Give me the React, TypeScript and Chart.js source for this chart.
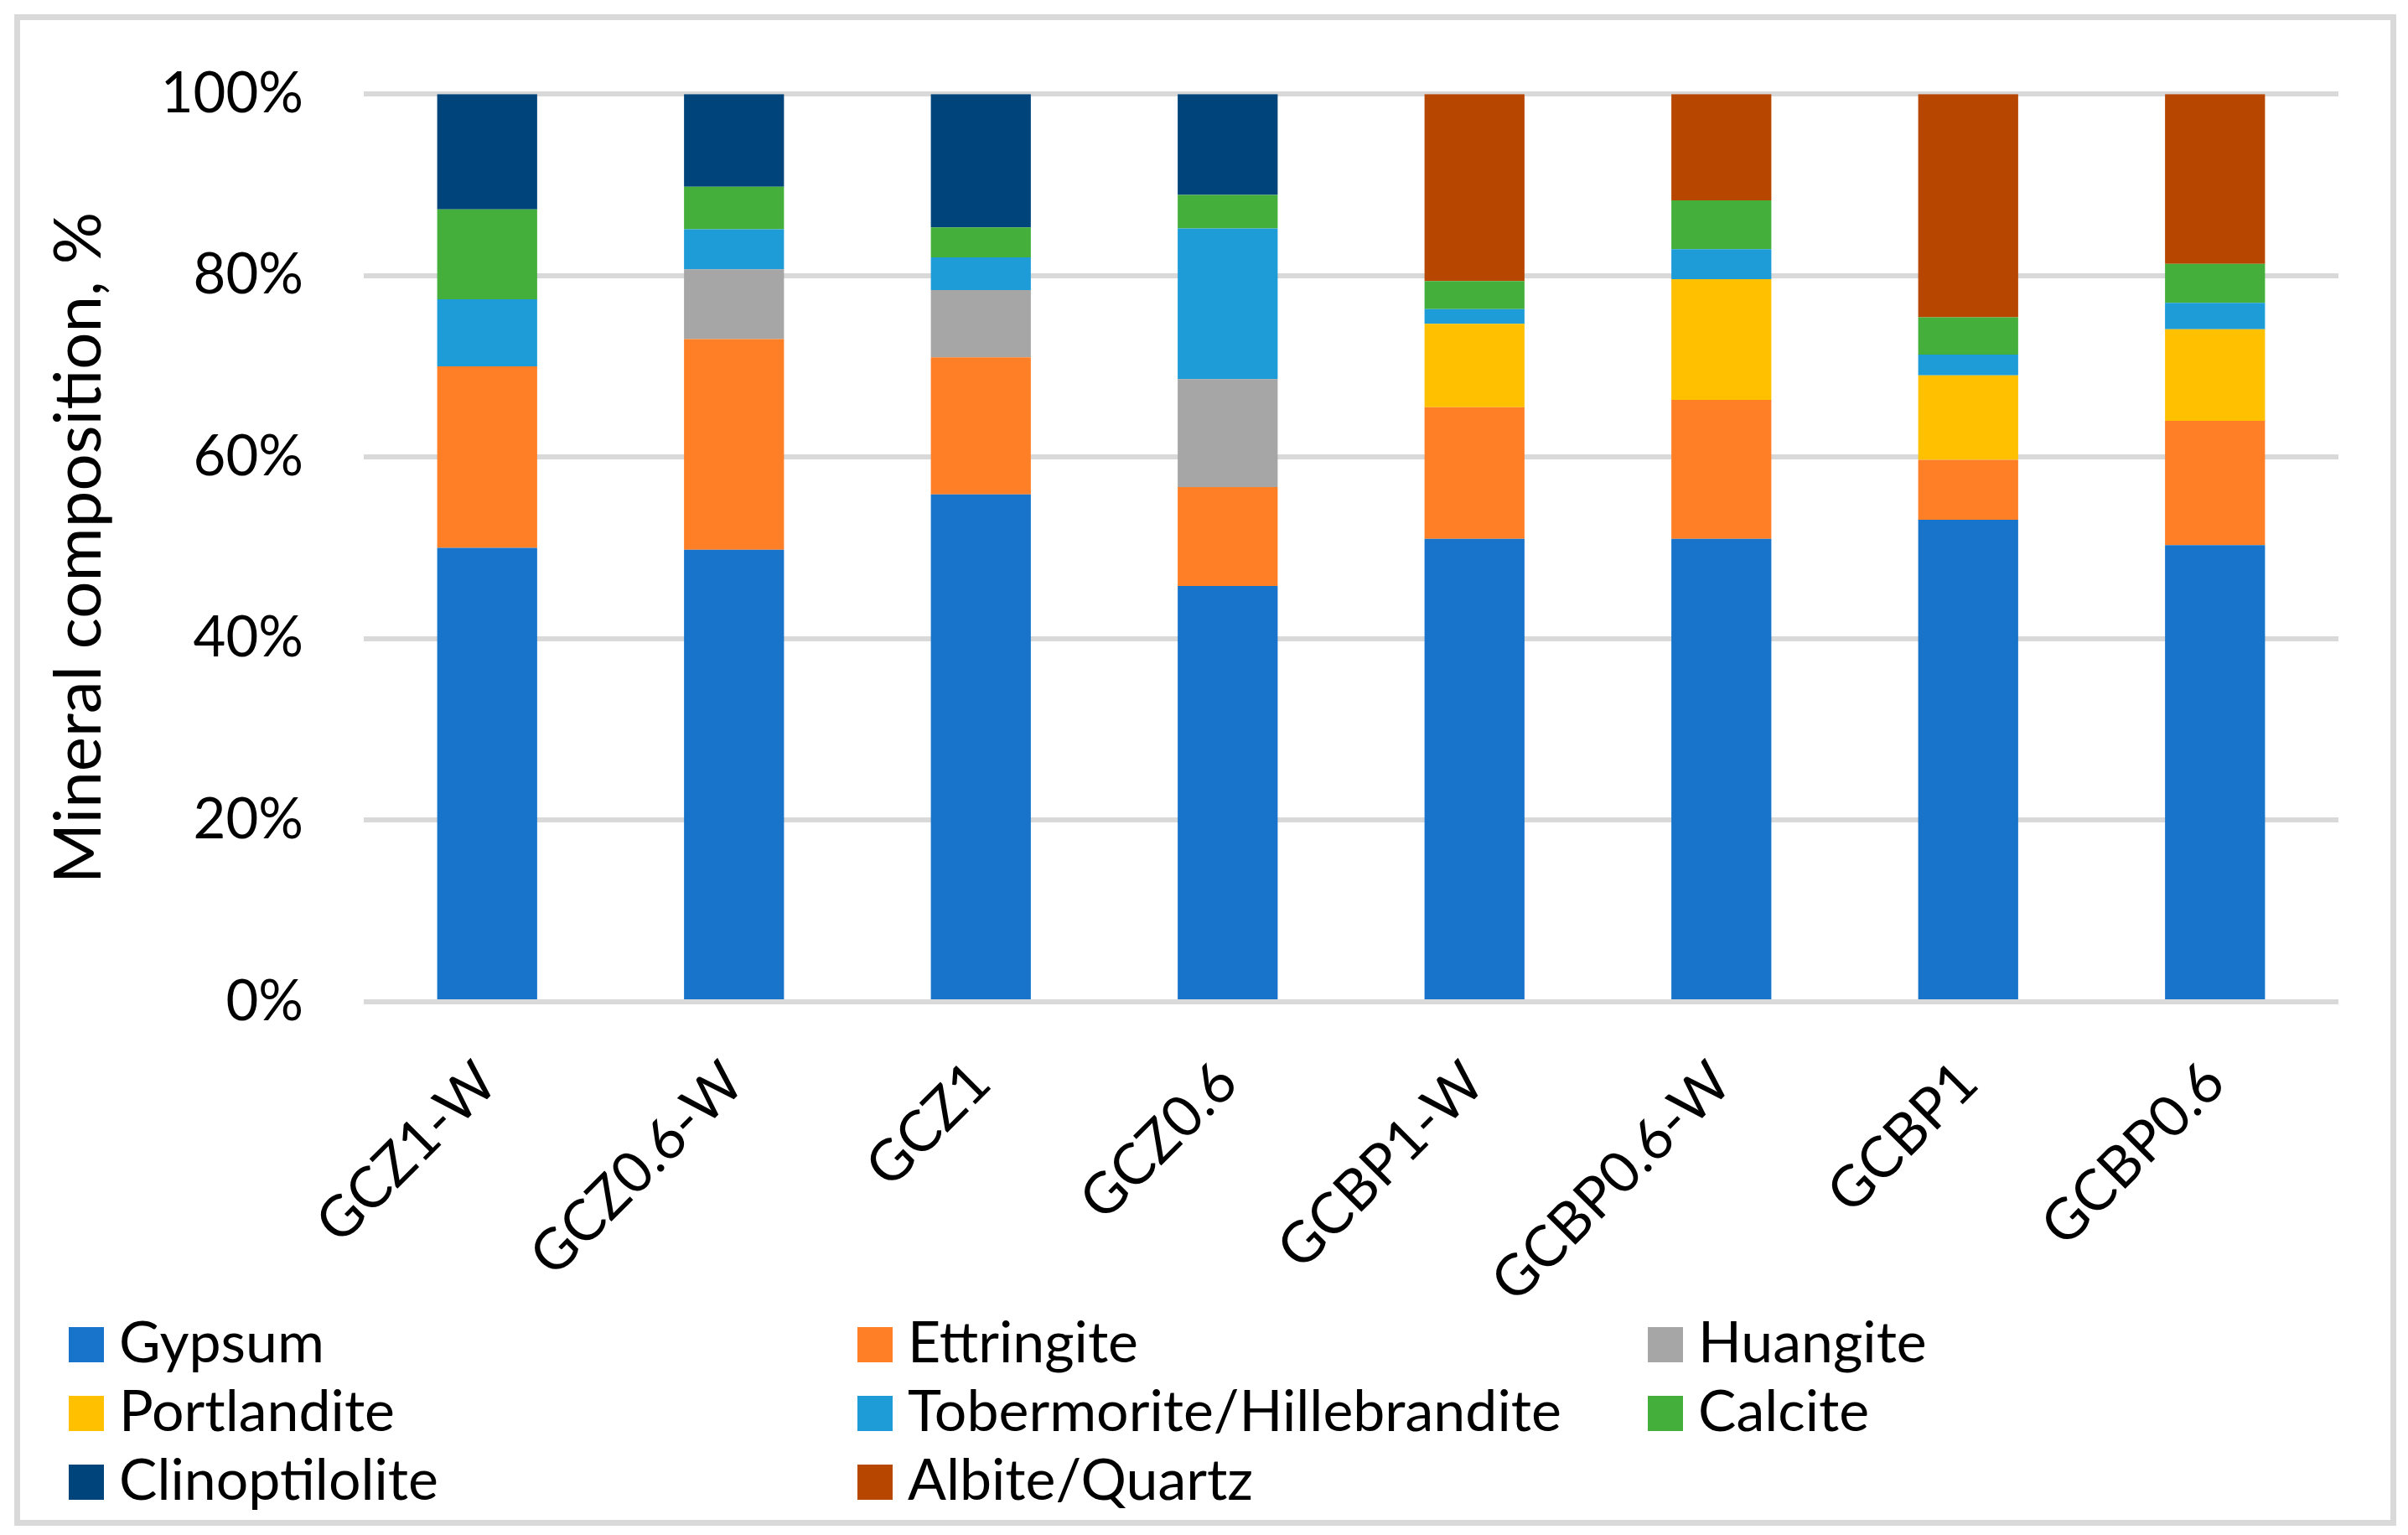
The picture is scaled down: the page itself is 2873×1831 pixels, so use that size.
import React, { useEffect, useRef } from "react";
import { Chart, registerables } from "chart.js";

Chart.register(...registerables);

const W = 2873;
const H = 1831;

const categories = ["GCZ1-W", "GCZ0.6-W", "GCZ1", "GCZ0.6", "GCBP1-W", "GCBP0.6-W", "GCBP1", "GCBP0.6"];

const gypsum = [50.0, 49.8, 55.9, 45.8, 51.0, 51.0, 53.1, 50.3];
const ettringite = [20.0, 23.2, 15.1, 10.9, 14.5, 15.3, 6.6, 13.7];
const huangite = [0, 7.7, 7.4, 11.9, 0, 0, 0, 0];
const portlandite = [0, 0, 0, 0, 9.2, 13.3, 9.3, 10.1];
const tobermorite = [7.4, 4.4, 3.6, 16.6, 1.6, 3.3, 2.3, 2.9];
const calcite = [9.9, 4.7, 3.3, 3.7, 3.1, 5.4, 4.1, 4.3];
const clinoptilolite = [12.7, 10.2, 14.7, 11.1, 0, 0, 0, 0];
const albiteQuartz = [0, 0, 0, 0, 20.6, 11.7, 24.6, 18.7];

const seriesNames = [
  "Gypsum",
  "Ettringite",
  "Huangite",
  "Portlandite",
  "Tobermorite/Hillebrandite",
  "Calcite",
  "Clinoptilolite",
  "Albite/Quartz",
];
const seriesValues = [gypsum, ettringite, huangite, portlandite, tobermorite, calcite, clinoptilolite, albiteQuartz];
const seriesColors = ["#1874CA", "#FF7F27", "#A6A6A6", "#FFC000", "#1D9CD8", "#45AF3B", "#00447C", "#B64600"];

const yMin = 0;
const yMax = 100;
const yStep = 20;
const yTitle = "Mineral composition, %";

const FONT = "Lato, 'Open Sans', 'Noto Sans', sans-serif";

const legendPlugin = {
  id: "gridLegend",
  afterDraw(chart: any) {
    const ctx = chart.ctx;
    ctx.save();
    const colX = [82, 1023, 1966];
    const rowY = [1583, 1665, 1747];
    const box = 42;
    ctx.font = `68px ${FONT}`;
    ctx.textBaseline = "alphabetic";
    ctx.textAlign = "left";
    chart.data.datasets.forEach((ds: any, i: number) => {
      const c = i % 3;
      const r = Math.floor(i / 3);
      const x = colX[c];
      const y = rowY[r];
      ctx.fillStyle = ds.backgroundColor;
      ctx.fillRect(x, y, box, box);
      ctx.fillStyle = "#000000";
      ctx.fillText(ds.label, x + 60, y + box);
    });
    ctx.restore();
  },
};

const borderPlugin = {
  id: "outerBorder",
  afterDraw(chart: any) {
    const ctx = chart.ctx;
    ctx.save();
    ctx.strokeStyle = "#D9D9D9";
    ctx.lineWidth = 7;
    ctx.strokeRect(20.5, 20.5, 2835, 1796);
    ctx.restore();
  },
};

export default function App() {
  const canvasRef = useRef<HTMLCanvasElement | null>(null);

  useEffect(() => {
    document.body.style.margin = "0";
    const canvas = canvasRef.current;
    if (!canvas) return;
    const chart = new Chart(canvas, {
      type: "bar",
      data: {
        labels: categories,
        datasets: seriesNames.map((name, i) => ({
          label: name,
          data: seriesValues[i],
          backgroundColor: seriesColors[i],
          borderWidth: 0,
          categoryPercentage: 1.0,
          barPercentage: 0.405,
        })),
      },
      options: {
        responsive: false,
        animation: false,
        devicePixelRatio: 1,
        layout: {
          padding: { left: 0, top: 110, right: 83, bottom: 271 },
        },
        plugins: {
          legend: { display: false },
          tooltip: { enabled: false },
          title: { display: false },
        },
        scales: {
          x: {
            stacked: true,
            grid: { display: false, drawTicks: false },
            border: { display: false },
            ticks: {
              color: "#000000",
              font: { family: FONT, size: 68 },
              minRotation: 45,
              maxRotation: 45,
              padding: 56,
              autoSkip: false,
            },
            afterFit(scale: any) {
              scale.height = 365;
            },
          },
          y: {
            stacked: true,
            min: yMin,
            max: yMax,
            grid: { color: "#D9D9D9", lineWidth: 6, drawTicks: false },
            border: { display: false },
            ticks: {
              stepSize: yStep,
              color: "#000000",
              font: { family: FONT, size: 67 },
              padding: 72,
              callback: (v: any) => `${v}%`,
            },
            title: {
              display: true,
              text: yTitle,
              color: "#000000",
              font: { family: FONT, size: 78, weight: "normal" },
              padding: { top: 48, bottom: 0 },
            },
            afterFit(scale: any) {
              scale.width = 434;
            },
          },
        },
      },
      plugins: [legendPlugin, borderPlugin],
    } as any);

    if ((document as any).fonts && (document as any).fonts.load) {
      (document as any).fonts.load(`67px Lato`).then(() => chart.update()).catch(() => {});
    }

    return () => {
      chart.destroy();
    };
  }, []);

  return (
    <div style={{ position: "absolute", left: 0, top: 0, width: W, height: H, background: "#ffffff" }}>
      <canvas ref={canvasRef} width={W} height={H} style={{ width: W, height: H, display: "block" }} />
    </div>
  );
}
